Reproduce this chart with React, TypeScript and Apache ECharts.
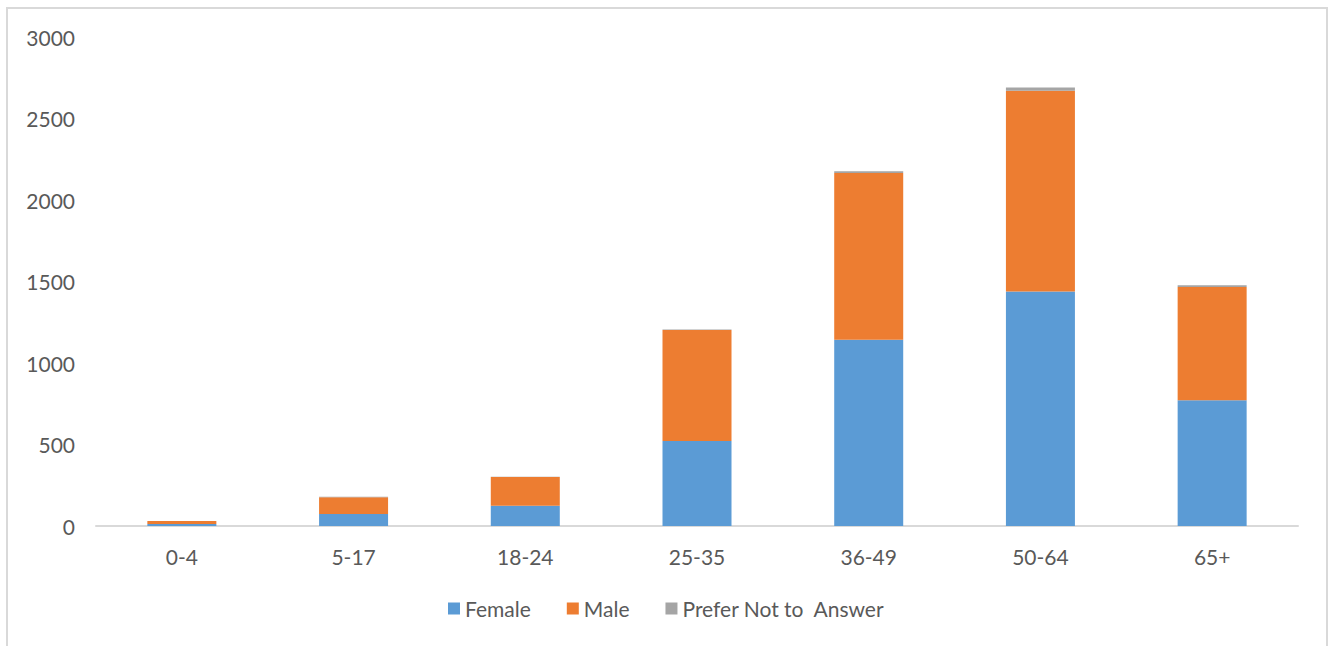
import React, { useEffect, useRef } from "react";
import * as echarts from "echarts";

const categories = ["0-4", "5-17", "18-24", "25-35", "36-49", "50-64", "65+"];
const female = [12, 74, 124, 521, 1143, 1438, 771];
const male = [18, 102, 176, 681, 1023, 1232, 696];
const preferNot = [1, 3, 2, 3, 10, 20, 10];
const yTicks = { min: 0, max: 3000, interval: 500 };

const FONT = "Lato, 'Noto Sans', sans-serif";
const TEXT = "#595959";

export default function App() {
  const ref = useRef<HTMLDivElement>(null);
  useEffect(() => {
    document.body.style.margin = "0";
    const chart = echarts.init(ref.current!, null, { renderer: "svg" });
    const mk = (name: string, data: number[], color: string) => ({
      name,
      type: "bar",
      stack: "total",
      data,
      barWidth: 69,
      itemStyle: { color },
      emphasis: { disabled: true },
    });
    chart.setOption({
      animation: false,
      backgroundColor: "#ffffff",
      textStyle: { fontFamily: FONT },
      graphic: [
        {
          type: "rect",
          shape: { x: 7, y: 8, width: 1320, height: 660 },
          style: { fill: "none", stroke: "#d9d9d9", lineWidth: 2 },
          silent: true,
        },
      ],
      grid: { left: 96, right: 33, top: 37, bottom: 120, containLabel: false },
      legend: {
        top: 593,
        left: 443,
        itemWidth: 12,
        itemHeight: 12,
        itemGap: 36,
        icon: "rect",
        textStyle: { color: TEXT, fontSize: 21, fontFamily: FONT },
        data: ["Female", "Male", "Prefer Not to  Answer"],
      },
      xAxis: {
        type: "category",
        data: categories,
        axisLine: { lineStyle: { color: "#d9d9d9", width: 2 } },
        axisTick: { show: false },
        axisLabel: { color: TEXT, fontSize: 21, margin: 20, fontFamily: FONT },
      },
      yAxis: {
        type: "value",
        min: yTicks.min,
        max: yTicks.max,
        interval: yTicks.interval,
        splitLine: { show: false },
        axisLine: { show: false },
        axisTick: { show: false },
        axisLabel: {
          color: TEXT,
          fontSize: 21,
          margin: 21,
          fontFamily: FONT,
          formatter: (v: number) => String(v),
        },
      },
      series: [
        mk("Female", female, "#5B9BD5"),
        mk("Male", male, "#ED7D31"),
        mk("Prefer Not to  Answer", preferNot, "#A5A5A5"),
      ],
    });
    return () => chart.dispose();
  }, []);
  return <div ref={ref} style={{ width: 1331, height: 646 }} />;
}
